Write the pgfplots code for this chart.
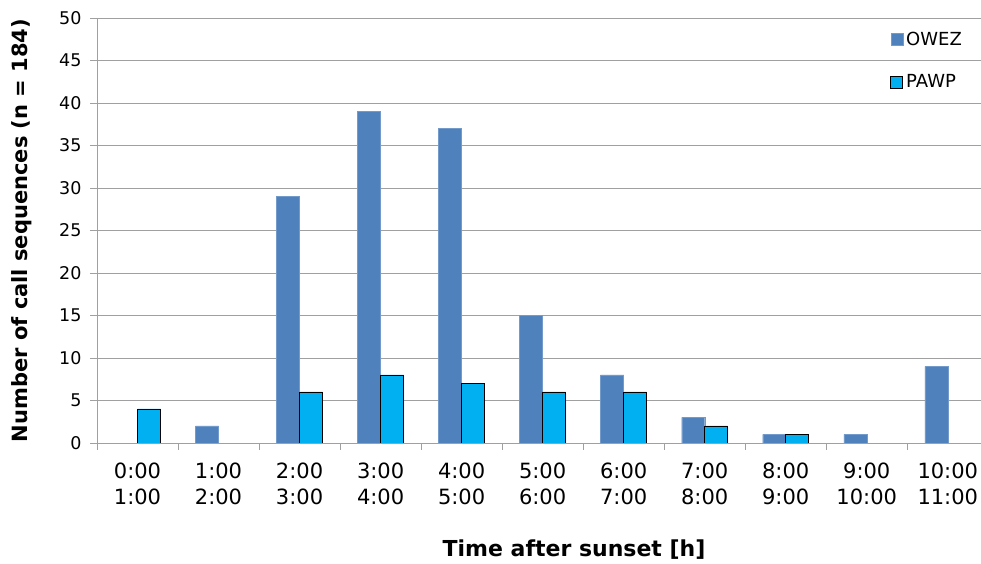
\documentclass[border=0pt]{standalone}
\usepackage{pgfplots}
\pgfplotsset{compat=1.18}
\usepackage{fontspec}
\setmainfont{DejaVu Sans}
\usetikzlibrary{calc}
\definecolor{owez}{HTML}{4F81BD}
\definecolor{pawp}{HTML}{00B0F0}
\definecolor{gridc}{HTML}{A0A0A0}
\begin{document}
\begin{tikzpicture}
\begin{axis}[
  scale only axis,
  width=884pt, height=425pt,
  xmin=-0.5, xmax=10.41,
  ymin=0, ymax=50,
  ytick={0,5,...,50},
  axis x line=bottom, axis y line=left,
  axis line style={gridc, -},
  ymajorgrids, grid style={gridc, line width=0.8pt},
  tick align=outside,
  major tick length=7pt,
  tick style={gridc, line width=0.8pt},
  xtick={-0.5,0.5,...,9.5},
  xticklabels={{0:00\\1:00},{1:00\\2:00},{2:00\\3:00},{3:00\\4:00},{4:00\\5:00},{5:00\\6:00},{6:00\\7:00},{7:00\\8:00},{8:00\\9:00},{9:00\\10:00},{10:00\\11:00}},
  xticklabel style={xshift=40.5pt, align=center, font=\fontsize{21}{26}\selectfont, text=black, yshift=-9pt},
  yticklabel style={font=\fontsize{17.5}{20}\selectfont, text=black, xshift=-5pt},
  /pgf/number format/assume math mode=true,
  ylabel={\textbf{Number of call sequences (n = 184)}},
  xlabel={\textbf{Time after sunset [h]}},
  ylabel style={font=\fontsize{21}{24}\selectfont, at={(axis description cs:-0.0850,0.5)}, anchor=center},
  xlabel style={font=\fontsize{22}{26}\selectfont, at={(axis description cs:0.5396,0)}, yshift=-114pt, anchor=base},
  ybar=0pt, bar width=23pt,
  legend style={draw=none, at={(0.982,0.975)}, anchor=north east, font=\fontsize{18}{21}\selectfont, row sep=22pt, fill=none, inner sep=0pt, nodes={inner sep=3pt}},
  legend cell align=left,
  legend image code/.code={\draw[#1] (0pt,-6pt) rectangle (12pt,6pt);},
]
\coordinate (bl) at (rel axis cs:0,0);
\coordinate (tr) at (rel axis cs:1,1);
\addplot[fill=owez, draw=owez!80!white] coordinates {(1,2) (2,29) (3,39) (4,37) (5,15) (6,8) (7,3) (8,1) (9,1) (10,9)};
\addplot[fill=pawp, draw=black, line width=0.9pt] coordinates {(0,4) (2,6) (3,8) (4,7) (5,6) (6,6) (7,2) (8,1)};
\legend{OWEZ,PAWP}
\end{axis}
\pgfresetboundingbox
\path[use as bounding box] ($(bl)+(-97pt,-121pt)$) rectangle ($(tr)+(0pt,18pt)$);
\end{tikzpicture}
\end{document}
